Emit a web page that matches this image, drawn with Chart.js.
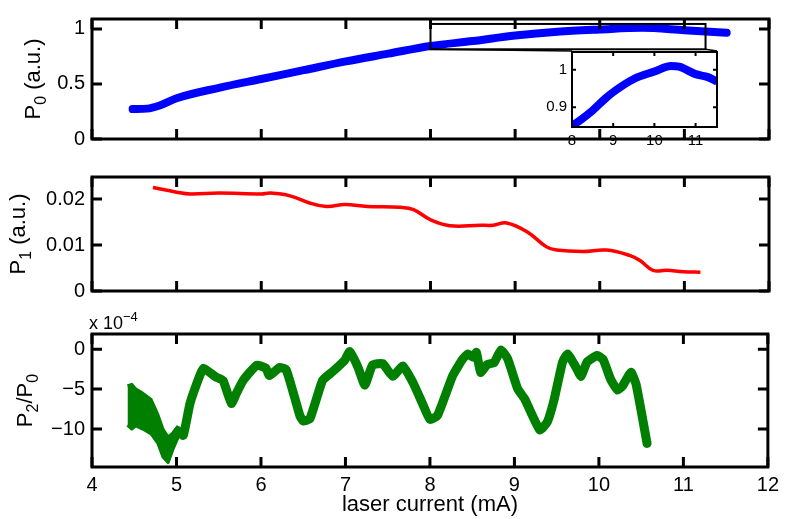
<!DOCTYPE html>
<html>
<head>
<meta charset="utf-8">
<script src="https://cdn.jsdelivr.net/npm/chart.js@4.4.0/dist/chart.umd.min.js"></script>
<style>
  html, body { margin: 0; padding: 0; background: #fff; }
  #wrap { position: relative; width: 785px; height: 519px; overflow: hidden; }
  canvas { position: absolute; }
</style>
</head>
<body>
<div id="wrap">
  <canvas id="c0" width="785" height="158" style="left:0;top:0"></canvas>
  <canvas id="c1" width="785" height="152" style="left:0;top:158px"></canvas>
  <canvas id="c2" width="785" height="209" style="left:0;top:310px"></canvas>
  <canvas id="ci" width="200" height="120" style="left:532px;top:38px"></canvas>
</div>
<script>
// ---- data ----
const xTicks = [4, 5, 6, 7, 8, 9, 10, 11, 12];
const p0Ticks = [0, 0.5, 1];
const p1Ticks = [0, 0.01, 0.02];
const p2Ticks = [-10, -5, 0];
const insetXTicks = [8, 9, 10, 11];
const insetYTicks = [0.9, 1];

const p0Current = [4.48, 4.65, 4.8, 5.0, 5.5, 6.0, 6.5, 7.0, 7.5, 8.0, 8.5, 9.0, 9.5, 10.0, 10.5, 11.0, 11.5];
const p0Power = [0.272, 0.276, 0.305, 0.37, 0.465, 0.545, 0.625, 0.705, 0.775, 0.845, 0.89, 0.94, 0.975, 0.995, 1.01, 0.988, 0.966];

const insetCurrent = [8.0, 8.2, 8.5, 8.8, 9.0, 9.5, 10.0, 10.4, 10.6, 11.0, 11.3, 11.52];
const insetPower = [0.85, 0.865, 0.891, 0.922, 0.94, 0.975, 0.995, 1.01, 1.008, 0.988, 0.98, 0.968];

const p1Current = [4.72, 5.0, 5.16, 5.5, 6.0, 6.11, 6.34, 6.58, 6.77, 6.99, 7.25, 7.64, 7.8, 8.0, 8.23, 8.59, 8.74, 8.9, 9.14, 9.37, 9.49, 9.8, 10.08, 10.36, 10.48, 10.63, 10.79, 10.99, 11.19];
const p1Power = [0.0225, 0.0215, 0.0211, 0.0213, 0.0211, 0.0213, 0.0207, 0.0191, 0.0184, 0.0188, 0.0184, 0.0182, 0.0177, 0.0155, 0.0142, 0.0143, 0.0143, 0.0148, 0.0129, 0.0096, 0.0089, 0.0086, 0.0089, 0.0077, 0.0066, 0.0045, 0.0045, 0.0042, 0.0041];

const p2Current = [4.96, 5.02, 5.08, 5.16, 5.28, 5.32, 5.47, 5.55, 5.65, 5.71, 5.79, 5.95, 6.06, 6.1, 6.22, 6.3, 6.46, 6.5, 6.58, 6.73, 6.85, 6.99, 7.05, 7.15, 7.23, 7.32, 7.44, 7.56, 7.68, 7.8, 7.92, 8.0, 8.09, 8.27, 8.39, 8.45, 8.51, 8.55, 8.6, 8.68, 8.76, 8.84, 8.92, 9.04, 9.12, 9.3, 9.39, 9.47, 9.57, 9.63, 9.73, 9.79, 9.86, 9.98, 10.05, 10.14, 10.22, 10.28, 10.38, 10.44, 10.57];
const p2Ratio = [-11.2, -10.2, -10.8, -6.8, -3.2, -2.4, -3.5, -3.9, -6.8, -5.5, -3.9, -2.0, -2.4, -3.3, -2.3, -2.6, -8.3, -9.0, -8.7, -3.9, -2.8, -1.4, -0.3, -2.3, -4.5, -2.0, -1.8, -3.4, -2.1, -4.2, -7.0, -8.8, -8.3, -3.3, -1.2, -0.6, -1.0, -0.4, -2.9, -1.9, -1.7, -0.1, -1.2, -5.0, -6.2, -10.1, -9.1, -6.3, -1.6, -0.6, -2.3, -3.4, -1.6, -0.8, -1.3, -3.8, -5.1, -4.6, -2.9, -4.4, -11.8];
// noisy start of the green trace: upper / lower edge of the band
const p2NoiseCurrent = [4.42, 4.47, 4.52, 4.6, 4.7, 4.78, 4.84, 4.9, 4.96, 5.02];
const p2NoiseHigh = [-4.6, -4.4, -5.0, -5.5, -6.3, -8.2, -10.0, -11.0, -10.5, -9.6];
const p2NoiseLow = [-9.5, -10.0, -9.6, -10.0, -10.6, -11.8, -13.5, -14.2, -12.5, -11.0];

const zoomCurrent = [8.0, 11.25];
const zoomPower = [0.815, 1.045];

// ---- helpers ----
const FONT = '"Liberation Sans", Arial, Helvetica, sans-serif';
const INSET = { left: 532, top: 38, padLeft: 40, padTop: 13, areaW: 145 };

const pts = (xs, ys) => xs.map((x, i) => ({ x: x, y: ys[i] }));
const fmt = v => String(v).replace('-', '\u2212');
const setTicks = arr => s => { s.ticks = arr.map(v => ({ value: v })); };

// text with sub / superscript pieces: parts = [[text, shift]] shift: 0 normal, 1 sub, -1 super
function richText(ctx, parts, x, y, size, angle, align) {
  ctx.save();
  ctx.translate(x, y);
  ctx.rotate(angle);
  ctx.fillStyle = '#000';
  ctx.textBaseline = 'alphabetic';
  ctx.textAlign = 'left';
  const small = Math.round(size * 0.72);
  let w = 0;
  parts.forEach(([s, sh]) => { ctx.font = (sh ? small : size) + 'px ' + FONT; w += ctx.measureText(s).width; });
  let cx = align === 'center' ? -w / 2 : 0;
  parts.forEach(([s, sh]) => {
    ctx.font = (sh ? small : size) + 'px ' + FONT;
    ctx.fillText(s, cx, sh === 1 ? size * 0.28 : sh === -1 ? -size * 0.45 : 0);
    cx += ctx.measureText(s).width;
  });
  ctx.restore();
}

const boxPlugin = {
  id: 'box',
  afterDatasetsDraw(chart, args, opts) {
    const { ctx, chartArea: a, scales: { x, y } } = chart;
    ctx.save();
    ctx.strokeStyle = '#000';
    ctx.lineWidth = opts.width;
    ctx.beginPath();
    x.ticks.forEach(t => {
      const px = x.getPixelForValue(t.value);
      ctx.moveTo(px, a.bottom); ctx.lineTo(px, a.bottom - opts.len);
      ctx.moveTo(px, a.top); ctx.lineTo(px, a.top + opts.len);
    });
    y.ticks.forEach(t => {
      const py = y.getPixelForValue(t.value);
      ctx.moveTo(a.left, py); ctx.lineTo(a.left + opts.len, py);
      ctx.moveTo(a.right, py); ctx.lineTo(a.right - opts.len, py);
    });
    ctx.stroke();
    ctx.strokeRect(a.left, a.top, a.right - a.left, a.bottom - a.top);
    ctx.restore();
  }
};

const labelPlugin = {
  id: 'labels',
  afterDraw(chart, args, opts) {
    const a = chart.chartArea;
    if (opts.ytitle) richText(chart.ctx, opts.ytitle, opts.ytitleX, (a.top + a.bottom) / 2, 22, -Math.PI / 2, 'center');
    if (opts.extra) opts.extra(chart);
  }
};

function panel(id, datasets, o) {
  return new Chart(document.getElementById(id), {
    type: 'line',
    data: { datasets: datasets },
    plugins: [boxPlugin, labelPlugin],
    options: {
      responsive: false,
      animation: false,
      events: [],
      layout: { padding: { left: 0, right: o.padRight, top: o.padTop, bottom: 0 } },
      elements: { point: { radius: 0 } },
      scales: {
        x: {
          type: 'linear', min: o.xMin, max: o.xMax,
          grid: { display: false, drawTicks: false }, border: { display: false },
          afterBuildTicks: setTicks(o.xTicks),
          afterFit: s => { s.height = o.xHeight; },
          ticks: { display: o.xLabels, color: '#000', padding: o.xPad, font: { family: FONT, size: 20 }, callback: fmt, maxRotation: 0, autoSkip: false },
          title: o.xTitle ? { display: true, text: o.xTitle, color: '#000', font: { family: FONT, size: 22 }, padding: { top: 0, bottom: 1 } } : { display: false }
        },
        y: {
          type: 'linear', min: o.yMin, max: o.yMax,
          grid: { display: false, drawTicks: false }, border: { display: false },
          afterBuildTicks: setTicks(o.yTicks),
          afterFit: s => { s.width = 92; },
          ticks: { color: '#000', padding: 7, font: { family: FONT, size: 20 }, callback: fmt, autoSkip: false }
        }
      },
      plugins: {
        legend: { display: false }, tooltip: { enabled: false },
        box: { width: 3, len: 10 },
        labels: { ytitle: o.ytitle, ytitleX: o.ytitleX, extra: o.extra }
      }
    }
  });
}

// ---- top panel: P0 with zoom box ----
panel('c0', [
  { data: pts(p0Current, p0Power), borderColor: '#0000ff', borderWidth: 8, cubicInterpolationMode: 'monotone', borderCapStyle: 'round' }
], {
  xMin: 4, xMax: 12, yMin: 0, yMax: 1.09, xTicks: xTicks, yTicks: p0Ticks,
  padRight: 16, padTop: 5, xHeight: 6, xLabels: false, xPad: 0,
  ytitle: [['P', 0], ['0', 1], [' (a.u.)', 0]], ytitleX: 40,
  extra: chart => {
    const { ctx, scales: { x, y } } = chart;
    const l = x.getPixelForValue(zoomCurrent[0]), r = x.getPixelForValue(zoomCurrent[1]);
    const t = y.getPixelForValue(zoomPower[1]), b = y.getPixelForValue(zoomPower[0]);
    const il = INSET.left + INSET.padLeft, it = INSET.top + INSET.padTop;
    ctx.save();
    ctx.strokeStyle = '#000';
    ctx.lineWidth = 2;
    ctx.strokeRect(l, t, r - l, b - t);
    ctx.lineWidth = 1.5;
    ctx.beginPath();
    ctx.moveTo(l, b); ctx.lineTo(il, it);
    ctx.moveTo(r, b); ctx.lineTo(il + INSET.areaW, it);
    ctx.stroke();
    ctx.restore();
  }
});

// ---- middle panel: P1 ----
panel('c1', [
  { data: pts(p1Current, p1Power), borderColor: '#ff0000', borderWidth: 3.5, tension: 0.4 }
], {
  xMin: 4, xMax: 12, yMin: 0, yMax: 0.0248, xTicks: xTicks, yTicks: p1Ticks,
  padRight: 16, padTop: 5, xHeight: 8, xLabels: false, xPad: 0,
  ytitle: [['P', 0], ['1', 1], [' (a.u.)', 0]], ytitleX: 25
});

// ---- bottom panel: P2/P0 ----
panel('c2', [
  { data: pts(p2Current, p2Ratio), borderColor: '#007f00', borderWidth: 9, tension: 0.15, borderJoinStyle: 'round', borderCapStyle: 'round' },
  { data: pts(p2NoiseCurrent, p2NoiseHigh), borderColor: '#007f00', backgroundColor: '#007f00', borderWidth: 3, fill: '+1', tension: 0, borderJoinStyle: 'round' },
  { data: pts(p2NoiseCurrent, p2NoiseLow), borderColor: '#007f00', borderWidth: 3, tension: 0, borderJoinStyle: 'round' }
], {
  xMin: 4, xMax: 12, yMin: -14.75, yMax: 1.9, xTicks: xTicks, yTicks: p2Ticks,
  padRight: 16, padTop: 24, xHeight: 52, xLabels: true, xPad: 6,
  xTitle: 'laser current (mA)',
  ytitle: [['P', 0], ['2', 1], ['/P', 0], ['0', 1]], ytitleX: 32,
  extra: chart => richText(chart.ctx, [['x 10', 0], ['\u22124', -1]], 89, 19, 18, 0, 'left')
});

// ---- inset: zoom of P0 ----
const insetChart = new Chart(document.getElementById('ci'), {
  type: 'line',
  data: { datasets: [
    { data: pts(insetCurrent, insetPower), borderColor: '#0000ff', borderWidth: 8, cubicInterpolationMode: 'monotone' }
  ] },
  plugins: [{
    id: 'bg',
    beforeDatasetsDraw(chart) {
      const { ctx, chartArea: a } = chart;
      ctx.save(); ctx.fillStyle = '#fff';
      ctx.fillRect(a.left, a.top, a.right - a.left, a.bottom - a.top);
      ctx.restore();
    }
  }, boxPlugin],
  options: {
    responsive: false,
    animation: false,
    events: [],
    layout: { padding: { left: 0, right: 15, top: 13, bottom: 0 } },
    elements: { point: { radius: 0 } },
    scales: {
      x: {
        type: 'linear', min: 8, max: 11.52,
        grid: { display: false, drawTicks: false }, border: { display: false },
        afterBuildTicks: setTicks(insetXTicks),
        afterFit: s => { s.height = 31; },
        ticks: { color: '#000', padding: 5, font: { family: FONT, size: 15 }, callback: fmt, maxRotation: 0, autoSkip: false }
      },
      y: {
        type: 'linear', min: 0.847, max: 1.047,
        grid: { display: false, drawTicks: false }, border: { display: false },
        afterBuildTicks: setTicks(insetYTicks),
        afterFit: s => { s.width = 40; },
        ticks: { color: '#000', padding: 5, font: { family: FONT, size: 15 }, callback: fmt, autoSkip: false }
      }
    },
    plugins: { legend: { display: false }, tooltip: { enabled: false }, box: { width: 2, len: 4 } }
  }
});
</script>
</body>
</html>
